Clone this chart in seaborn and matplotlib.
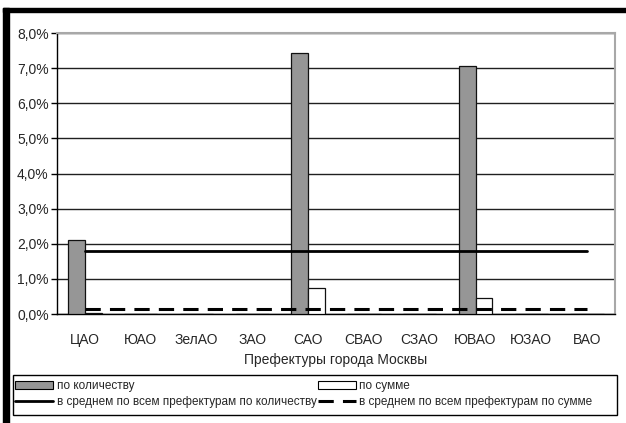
import pandas as pd
import matplotlib
matplotlib.use("Agg")
import matplotlib.pyplot as plt
from matplotlib.patches import Patch, Rectangle
from matplotlib.lines import Line2D
from matplotlib.ticker import FuncFormatter, MultipleLocator, FixedLocator
import seaborn as sns

# Data (values in %)
prefectures = ["ЦАО", "ЮАО", "ЗелАО", "ЗАО", "САО",
               "СВАО", "СЗАО", "ЮВАО", "ЮЗАО", "ВАО"]
by_count = [2.1, 0.0, 0.0, 0.0, 7.42, 0.0, 0.0, 7.05, 0.0, 0.0]
by_sum = [0.03, 0.0, 0.0, 0.0, 0.75, 0.0, 0.0, 0.45, 0.0, 0.0]
avg_count = [1.78] * len(prefectures)
avg_sum = [0.14] * len(prefectures)

series_names = ["по количеству", "по сумме"]
avg_names = ["в среднем по всем префектурам по количеству",
             "в среднем по всем префектурам по сумме"]
bar_colors = ["#969696", "#ffffff"]

sns.set_style("white")
plt.rcParams["font.family"] = ["Liberation Sans", "DejaVu Sans"]

bars = pd.DataFrame({
    "pref": prefectures * 2,
    "value": by_count + by_sum,
    "series": [series_names[0]] * len(prefectures)
    + [series_names[1]] * len(prefectures),
})

fig = plt.figure(figsize=(6.26, 4.23), dpi=100)
ax = fig.add_axes([57 / 626, 1 - 314 / 423, 558 / 626, 281 / 423])

sns.barplot(data=bars, x="pref", y="value", hue="series",
            palette=bar_colors, width=0.6, gap=0, edgecolor="#111111",
            linewidth=0.9, saturation=1, legend=False, ax=ax, zorder=3)

sns.pointplot(x=prefectures, y=avg_count, color="black", markers="",
              linestyles="-", linewidth=2, errorbar=None, ax=ax)
sns.pointplot(x=prefectures, y=avg_sum, color="black", markers="",
              linestyles="--", linewidth=2.2, errorbar=None, ax=ax)
for ln in ax.lines[-2:]:
    ln.set_zorder(4)
ax.lines[-1].set_dashes((5, 3))

ax.set_ylim(0, 8)
ax.set_xlim(-0.5, len(prefectures) - 0.5)
ax.yaxis.set_major_locator(MultipleLocator(1))
ax.yaxis.set_major_formatter(
    FuncFormatter(lambda v, _: f"{v:.1f}%".replace(".", ",")))
ax.yaxis.grid(True, color="#202020", linewidth=1)
ax.set_axisbelow(True)

ax.set_xlabel("Префектуры города Москвы", fontsize=10, labelpad=4)
ax.set_ylabel("")
ax.tick_params(axis="x", length=0, labelsize=10, pad=14)
ax.xaxis.set_minor_locator(
    FixedLocator([i - 0.5 for i in range(len(prefectures) + 1)]))
ax.tick_params(axis="x", which="minor", length=5, width=1,
               direction="out", color="black")
ax.tick_params(axis="y", length=4, width=1, direction="out",
               labelsize=10, pad=2, color="black", left=True)

for side in ["left", "bottom"]:
    ax.spines[side].set_color("black")
    ax.spines[side].set_linewidth(1)
for side in ["top", "right"]:
    ax.spines[side].set_color("#a8a8a8")
    ax.spines[side].set_linewidth(1.5)

handles = [
    Patch(facecolor=bar_colors[0], edgecolor="black", linewidth=0.8),
    Line2D([], [], color="black", linewidth=2),
    Patch(facecolor=bar_colors[1], edgecolor="black", linewidth=0.8),
    Line2D([], [], color="black", linewidth=2.2, dashes=(5, 3)),
]
labels = [series_names[0], avg_names[0], series_names[1], avg_names[1]]
leg = fig.legend(handles, labels, ncol=2, loc="upper left",
                 bbox_to_anchor=(13 / 626, 1 - 378 / 423),
                 frameon=False, fontsize=8.5, handlelength=3.2,
                 handleheight=0.6, handletextpad=0.3, borderaxespad=0,
                 borderpad=0.2, labelspacing=0.3, columnspacing=0.1)

# legend frame spanning the full width
fig.patches.append(Rectangle((13 / 626, 1 - 415 / 423), 604 / 626,
                             40 / 423, transform=fig.transFigure,
                             facecolor="none", edgecolor="black",
                             linewidth=1))

# thick black border on the top and left edges
fig.patches.append(Rectangle((3 / 626, 0), 6 / 626, 415 / 423,
                             transform=fig.transFigure, color="black"))
fig.patches.append(Rectangle((3 / 626, 1 - 12 / 423), 1, 4 / 423,
                             transform=fig.transFigure, color="black"))

fig.savefig("out.png", dpi=100)
